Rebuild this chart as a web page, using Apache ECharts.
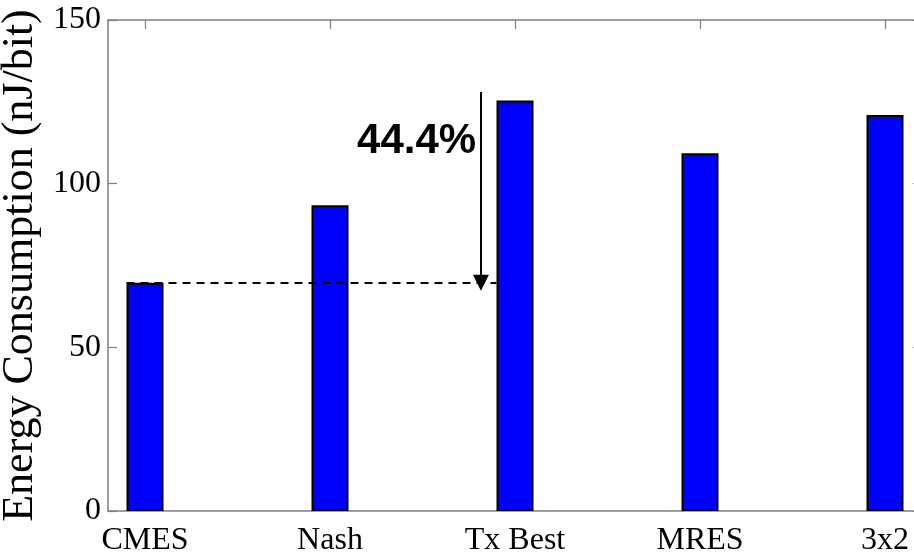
<!DOCTYPE html>
<html>
<head>
<meta charset="utf-8">
<style>
  html, body { margin: 0; padding: 0; background: #fff; }
  #chart { width: 914px; height: 554px; }
</style>
<script src="https://cdn.jsdelivr.net/npm/echarts@6/dist/echarts.min.js"></script>
</head>
<body>
<div id="chart"></div>
<script>
// Scheme names and their energy per bit (nJ/bit)
const categories = ['CMES', 'Nash', 'Tx Best', 'MRES', '3x2'];
const energy = [69.7, 93.4, 125.4, 109.3, 121.0];
const yTicks = [0, 50, 100, 150];

// Category positions on the numeric x axis (1..n)
const positions = categories.map((_, i) => i + 1);
const barData = positions.map((p, i) => [p, energy[i]]);

// Saving of CMES relative to the best transmit-only scheme
const baseIdx = 0, refIdx = 2;
const saving = (1 - energy[baseIdx] / energy[refIdx]) * 100;
const savingText = saving.toFixed(1) + '%';

const serif = '"Liberation Serif", "Times New Roman", serif';
const axisGrey = '#7f7f7f';

const chart = echarts.init(document.getElementById('chart'), null, { renderer: 'canvas' });

const xBase = {
  type: 'value',
  min: 0.8,
  max: categories.length + 0.2,
  splitLine: { show: false },
  axisLine: { show: true, onZero: false, lineStyle: { color: axisGrey, width: 1.5 } },
  axisTick: { show: true, inside: true, length: 9, customValues: positions, lineStyle: { color: axisGrey, width: 1.2 } }
};
const yBase = {
  type: 'value',
  min: yTicks[0],
  max: yTicks[yTicks.length - 1],
  interval: 50,
  splitLine: { show: false },
  axisLine: { show: true, lineStyle: { color: axisGrey, width: 1.5 } },
  axisTick: { show: true, inside: true, length: 9, lineStyle: { color: axisGrey, width: 1.2 } }
};

chart.setOption({
  animation: false,
  backgroundColor: '#ffffff',
  grid: { left: 108, top: 20, width: 814, height: 491, containLabel: false, outerBoundsMode: 'none' },
  xAxis: [
    Object.assign({}, xBase, {
      position: 'bottom',
      axisLabel: {
        show: true,
        customValues: positions,
        formatter: v => categories[Math.round(v) - 1] || '',
        color: '#000',
        fontFamily: serif,
        fontSize: 32,
        margin: 14
      }
    }),
    Object.assign({}, xBase, { position: 'top', axisLabel: { show: false } })
  ],
  yAxis: [
    Object.assign({}, yBase, {
      position: 'left',
      name: 'Energy Consumption (nJ/bit)',
      nameLocation: 'middle',
      nameGap: 46,
      nameTextStyle: { color: '#000', fontFamily: serif, fontSize: 44 },
      axisLabel: { show: true, color: '#000', fontFamily: serif, fontSize: 32, margin: 7 }
    }),
    Object.assign({}, yBase, { position: 'right', axisLabel: { show: false } })
  ],
  series: [
    {
      type: 'bar',
      data: barData,
      barWidth: 37,
      itemStyle: { color: '#0000ff', borderColor: '#000', borderWidth: 2 },
      markLine: {
        silent: true,
        symbol: 'none',
        label: { show: false },
        data: [
          // dashed reference at the CMES level
          [
            { coord: [positions[baseIdx] - 0.1, energy[baseIdx]], lineStyle: { type: [8, 6], color: '#000', width: 2 } },
            { coord: [positions[refIdx] - 0.1, energy[baseIdx]] }
          ],
          // arrow from above Tx Best down to the CMES level
          [
            { coord: [2.816, 128], symbol: 'none', lineStyle: { type: 'solid', color: '#000', width: 2 } },
            { coord: [2.816, energy[baseIdx]], symbol: 'triangle', symbolSize: [16, 16] }
          ]
        ]
      },
      markPoint: {
        silent: true,
        symbol: 'circle',
        symbolSize: 0,
        data: [
          {
            coord: [2.79, 113],
            label: {
              show: true,
              formatter: savingText,
              position: 'left',
              distance: 0,
              color: '#000',
              fontFamily: '"Liberation Sans", Arial, sans-serif',
              fontWeight: 'bold',
              fontSize: 42
            }
          }
        ]
      }
    }
  ]
});
</script>
</body>
</html>
